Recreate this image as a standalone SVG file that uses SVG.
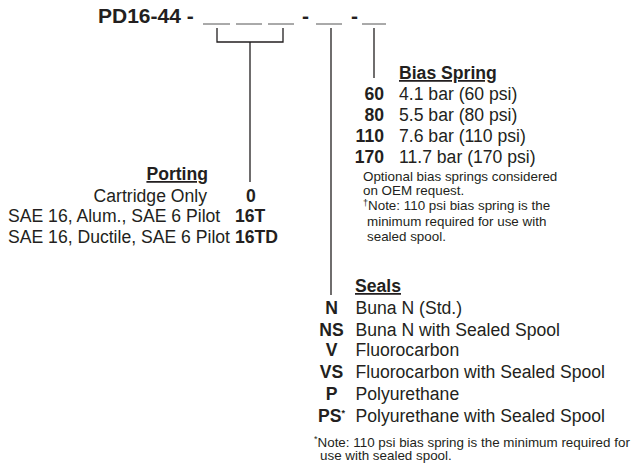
<svg xmlns="http://www.w3.org/2000/svg" width="639" height="470" viewBox="0 0 639 470">
<style>
text{font-family:"Liberation Sans",Arial,sans-serif;fill:#231f20;}
.t{font-size:21px;font-weight:bold;}
.h{font-size:17.6px;font-weight:bold;text-decoration:underline;}
.b{font-size:17.6px;font-weight:bold;}
.r{font-size:17.6px;}
.s{font-size:13.4px;}
.sup{font-size:9px;}
.ln{stroke:#231f20;stroke-width:1.3;fill:none;}
.us{stroke:#555;stroke-width:1;fill:none;}
</style>
<rect width="639" height="470" fill="#fff"/>
<g id="title">
<text class="t" x="98" y="23">PD16-44 -</text>
<line class="us" x1="203" y1="24" x2="230" y2="24"/>
<line class="us" x1="236" y1="24" x2="262" y2="24"/>
<line class="us" x1="268" y1="24" x2="294" y2="24"/>
<text class="t" x="302" y="23">-</text>
<line class="us" x1="316" y1="24" x2="342" y2="24"/>
<text class="t" x="351" y="23">-</text>
<line class="us" x1="362" y1="24" x2="386" y2="24"/>
</g>
<g id="connectors">
<path class="ln" d="M217 28V42H283V28M250 42V182"/>
<path class="ln" d="M331 28V295"/>
<path class="ln" d="M374 28V78"/>
</g>
<g id="bias-spring">
<text class="h" x="399" y="79">Bias Spring</text>
<text class="b" x="384" y="100" text-anchor="end">60</text>
<text class="r" x="399" y="100">4.1 bar (60 psi)</text>
<text class="b" x="384" y="121" text-anchor="end">80</text>
<text class="r" x="399" y="121">5.5 bar (80 psi)</text>
<text class="b" x="384" y="141.5" text-anchor="end">110</text>
<text class="r" x="399" y="141.5">7.6 bar (110 psi)</text>
<text class="b" x="384" y="163" text-anchor="end">170</text>
<text class="r" x="399" y="163">11.7 bar (170 psi)</text>
<text class="s" x="363" y="181">Optional bias springs considered<tspan x="363" y="195">on OEM request.</tspan><tspan x="363" y="206" class="sup">†</tspan><tspan y="210">Note: 110 psi bias spring is the</tspan><tspan x="367" y="226">minimum required for use with</tspan><tspan x="367" y="241">sealed spool.</tspan></text>
</g>
<g id="porting">
<text class="h" x="208" y="180" text-anchor="end">Porting</text>
<text class="r" x="207" y="201.5" text-anchor="end">Cartridge Only</text>
<text class="b" x="251" y="201.5" text-anchor="middle">0</text>
<text class="r" x="8" y="222">SAE 16, Alum., SAE 6 Pilot</text>
<text class="b" x="235" y="222">16T</text>
<text class="r" x="8" y="243">SAE 16, Ductile, SAE 6 Pilot</text>
<text class="b" x="235" y="243">16TD</text>
</g>
<g id="seals">
<text class="h" x="355" y="292">Seals</text>
<text class="b" x="331.5" y="314" text-anchor="middle">N</text>
<text class="r" x="355.5" y="314">Buna N (Std.)</text>
<text class="b" x="331.5" y="335.5" text-anchor="middle">NS</text>
<text class="r" x="355.5" y="335.5">Buna N with Sealed Spool</text>
<text class="b" x="331.5" y="356" text-anchor="middle">V</text>
<text class="r" x="355.5" y="356">Fluorocarbon</text>
<text class="b" x="331.5" y="377.5" text-anchor="middle">VS</text>
<text class="r" x="355.5" y="377.5">Fluorocarbon with Sealed Spool</text>
<text class="b" x="331.5" y="399.5" text-anchor="middle">P</text>
<text class="r" x="355.5" y="399.5">Polyurethane</text>
<text class="b" x="318" y="421.5">PS<tspan class="sup" dy="-6">*</tspan></text>
<text class="r" x="355.5" y="421.5">Polyurethane with Sealed Spool</text>
<text class="s" x="314" y="441.5"><tspan class="sup">*</tspan><tspan y="446.5">Note: 110 psi bias spring is the minimum required for</tspan><tspan x="320" y="460">use with sealed spool.</tspan></text>
</g>
</svg>
